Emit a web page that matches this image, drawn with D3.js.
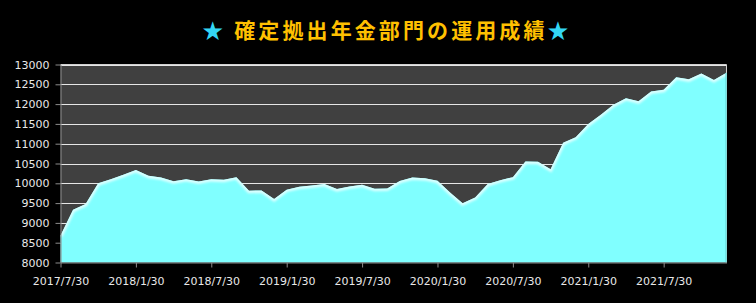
<!DOCTYPE html>
<html><head><meta charset="utf-8">
<script src="https://cdn.jsdelivr.net/npm/d3@7"></script>
<style>
html,body{margin:0;padding:0;background:#000;}
svg{display:block;}
</style></head>
<body><svg id="c" width="756" height="303"></svg>
<script>
const titleText = "確定拠出年金部門の運用成績";
const months = ["2017/7","2017/8","2017/9","2017/10","2017/11","2017/12",
"2018/1","2018/2","2018/3","2018/4","2018/5","2018/6","2018/7","2018/8","2018/9","2018/10","2018/11","2018/12",
"2019/1","2019/2","2019/3","2019/4","2019/5","2019/6","2019/7","2019/8","2019/9","2019/10","2019/11","2019/12",
"2020/1","2020/2","2020/3","2020/4","2020/5","2020/6","2020/7","2020/8","2020/9","2020/10","2020/11","2020/12",
"2021/1","2021/2","2021/3","2021/4","2021/5","2021/6","2021/7","2021/8","2021/9","2021/10","2021/11","2021/12"];
const values = [8680,9330,9480,10000,10105,10213,10338,10188,10145,10050,10105,10045,10105,10088,10155,9812,9820,9604,
9840,9912,9945,9980,9853,9920,9962,9862,9870,10060,10145,10130,10062,9770,9497,9644,9980,10080,
10155,10550,10545,10355,11022,11165,11497,11732,11983,12150,12070,12318,12360,12675,12625,12775,12610,12790];
const tickMonths = ["2017/7","2018/1","2018/7","2019/1","2019/7","2020/1","2020/7","2021/1","2021/7"];
const tickLabels = ["2017/7/30","2018/1/30","2018/7/30","2019/1/30","2019/7/30","2020/1/30","2020/7/30","2021/1/30","2021/7/30"];
const yTicks = [8000,8500,9000,9500,10000,10500,11000,11500,12000,12500,13000];

const svg = d3.select("#c");
const L = 60.5, R = 726.5, T = 64.5, B = 262.5;
const x = d3.scalePoint().domain(months).range([L, R]);
const y = d3.scaleLinear().domain([8000, 13000]).range([B, T]);

// title
const title = svg.append("text").attr("x", 387).attr("y", 38)
  .attr("text-anchor", "middle")
  .style("font-family", "'Noto Sans CJK JP', sans-serif")
  .style("font-weight", "bold").style("font-size", "21px").style("letter-spacing", "3.1px");
title.append("tspan").attr("fill", "#33D6F5").text("★ ");
title.append("tspan").attr("fill", "#FFC000").text(titleText);
title.append("tspan").attr("fill", "#33D6F5").text("★");

// plot background
svg.append("rect").attr("x", L).attr("y", T).attr("width", R - L).attr("height", B - T).attr("fill", "#404040");

// gridlines
svg.append("g").selectAll("line").data(yTicks.filter(d => d > 8000)).join("line")
  .attr("x1", L).attr("x2", R).attr("y1", d => Math.round(y(d)) + 0.5).attr("y2", d => Math.round(y(d)) + 0.5)
  .attr("stroke", "#e6e6e6").attr("stroke-width", 1);
// plot border top/right
svg.append("path").attr("d", `M${L},${T}H${R}V${B}`).attr("fill", "none").attr("stroke", "#d0d0d0");

// defs for glow
const defs = svg.append("defs");
const f = defs.append("filter").attr("id", "blur").attr("x", "-5%").attr("y", "-20%").attr("width", "110%").attr("height", "140%");
f.append("feGaussianBlur").attr("stdDeviation", 1.2);
const clip = defs.append("clipPath").attr("id", "clipArea");

const area = d3.area().x((d, i) => x(months[i])).y0(B).y1(d => y(d));
const line = d3.line().x((d, i) => x(months[i])).y(d => y(d));
clip.append("path").attr("d", area(values));

svg.append("path").attr("d", area(values)).attr("fill", "#80FFFF");
svg.append("g").attr("clip-path", "url(#clipArea)")
  .append("path").attr("d", line(values)).attr("fill", "none")
  .attr("stroke", "#DDFFFF").attr("stroke-width", 4).attr("filter", "url(#blur)")
  .attr("transform", "translate(0,0.5)");
svg.append("path").attr("d", `M${R - 0.5},${y(values[values.length - 1])}V${B}`).attr("stroke", "#5fcfcf").attr("stroke-width", 1);

// axes
const yAxis = d3.axisLeft(y).tickValues(yTicks).tickSize(5).tickSizeOuter(0).tickPadding(6).tickFormat(d3.format("d"));
const gy = svg.append("g").attr("transform", `translate(${L},0)`).call(yAxis);
const xAxis = d3.axisBottom(x).tickValues(tickMonths).tickSize(5).tickSizeOuter(0).tickPadding(10)
  .tickFormat(d => tickLabels[tickMonths.indexOf(d)]);
const gx = svg.append("g").attr("transform", `translate(0,${B})`).call(xAxis);
[gy, gx].forEach(g => {
  g.select(".domain").attr("stroke", "#8c8c8c");
  g.selectAll(".tick line").attr("stroke", "#8c8c8c");
  g.selectAll("text").attr("fill", "#e8e8e8")
    .style("font-family", "'DejaVu Sans', sans-serif").style("font-size", "11px");
});
</script></body></html>
